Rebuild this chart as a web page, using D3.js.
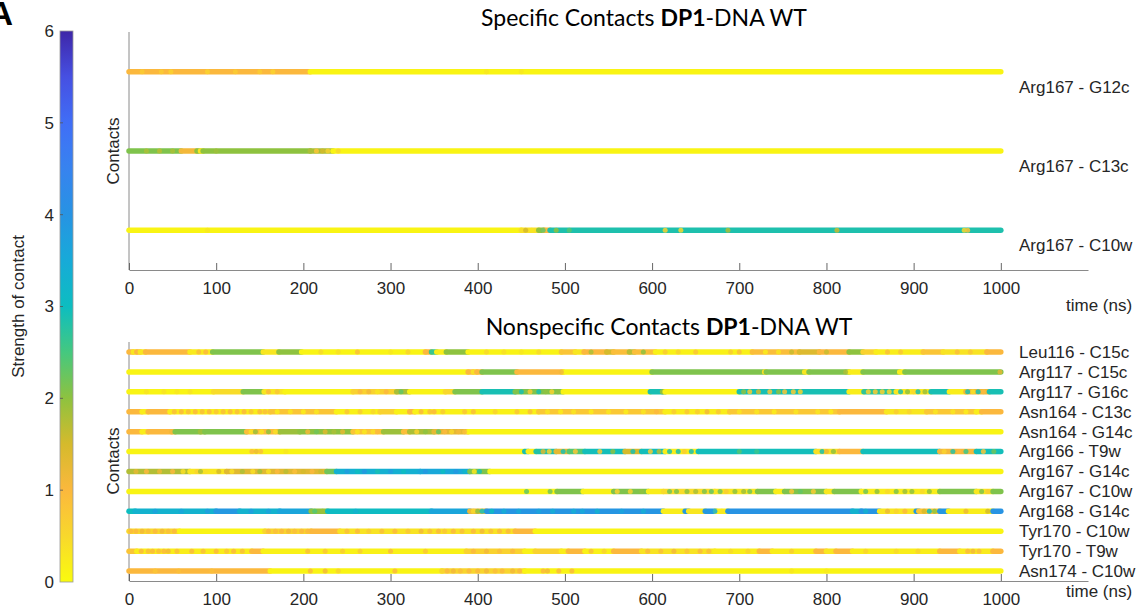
<!DOCTYPE html>
<html><head><meta charset="utf-8">
<script src="https://cdn.jsdelivr.net/npm/d3@7"></script>
<style>
body{margin:0;background:#fff;}
svg{display:block;font-family:"Liberation Sans",Arial,sans-serif;}
</style></head><body>
<svg id="chart" width="1142" height="613"></svg>
<script>
// ---- tick labels ----
const timeTicks = [0, 100, 200, 300, 400, 500, 600, 700, 800, 900, 1000];
const strengthTicks = [0, 1, 2, 3, 4, 5, 6];

// ---- colormap (strength of contact, 0..6) ----
const strengthStops = [0, 0.5, 1, 1.5, 2, 2.5, 3, 3.5, 4, 4.5, 5, 5.5, 6];
const strengthColors = ['#f9fb0e', '#f8d82c', '#fbb83d', '#d5ba2c', '#8ec23f', '#45c87f', '#0dbdc0',
                        '#17aad8', '#2793e3', '#3783ef', '#406ef6', '#4650e2', '#3e26a8'];

// ---- specific contacts: runs are [start ns, end ns, strength] ----
const specificLabels = ['Arg167 - G12c', 'Arg167 - C13c', 'Arg167 - C10w'];
const specificRuns = [
  [[0,208,1.0],[208,1000,0.1]],
  [[0,60,2.1],[60,78,1.1],[78,82,2.0],[82,85,0.3],[85,208,2.0],[208,234,1.8],[234,1000,0.1]],
  [[0,450,0.1],[450,470,0.4],[470,476,2.0],[476,483,1.0],[483,1000,2.85]]
];
// isolated samples [time ns, strength]
const specificSpots = [
  [[15,0.7],[37,0.7],[48,0.6],[90,0.6],[122,0.7],[150,0.7],[165,0.6],[410,0.3],[450,0.3]],
  [[20,1.8],[35,1.7],[50,1.8],[100,1.9],[215,0.8],[222,1.5],[228,0.6],[240,0.5]],
  [[90,0.3],[455,1.5],[462,0.3],[475,2.3],[490,2.0],[505,2.4],[615,0.6],[633,0.5],[687,1.8],[812,1.6],[958,0.5],[962,0.8]]
];

// ---- nonspecific contacts ----
const nonspecificLabels = ['Leu116 - C15c', 'Arg117 - C15c', 'Arg117 - G16c', 'Asn164 - C13c',
  'Asn164 - G14c', 'Arg166 - T9w', 'Arg167 - G14c', 'Arg167 - C10w', 'Arg168 - G14c',
  'Tyr170 - C10w', 'Tyr170 - T9w', 'Asn174 - C10w'];
const nonspecificRuns = [
  [[0,5,1.0],[5,9,0.3],[9,13,1.0],[13,19,0.3],[19,70,1.0],[70,96,0.25],[96,154,2.1],[154,172,0.3],[172,198,2.0],[198,340,0.1],[340,347,1.0],[347,353,2.6],[353,364,0.2],[364,389,2.0],[389,496,0.12],[496,512,0.8],[512,522,0.3],[522,548,1.0],[548,556,1.5],[556,574,0.9],[574,580,1.7],[580,604,0.9],[604,715,0.15],[715,769,0.9],[769,792,1.4],[792,826,1.0],[826,842,2.0],[842,857,0.6],[857,911,0.2],[911,934,0.8],[934,984,0.35],[984,1000,1.0]],
  [[0,389,0.1],[389,395,1.0],[395,399,0.4],[399,405,1.0],[405,445,2.1],[445,498,1.0],[498,600,0.1],[600,729,2.1],[729,731,0.4],[731,775,2.1],[775,780,0.3],[780,826,2.1],[826,842,0.2],[842,884,2.1],[884,890,0.2],[890,1000,2.1]],
  [[0,97,0.1],[97,131,0.45],[131,155,2.1],[155,179,0.3],[179,257,0.1],[257,307,0.6],[307,322,1.8],[322,363,0.12],[363,374,0.5],[374,405,2.1],[405,443,2.9],[443,498,2.1],[498,598,0.12],[598,612,2.9],[612,615,2.0],[615,700,0.12],[700,826,2.9],[826,843,0.2],[843,880,2.7],[880,920,0.3],[920,941,2.9],[941,960,0.2],[960,987,1.2],[987,1000,2.9]],
  [[0,15,1.0],[15,22,0.2],[22,47,1.0],[47,162,0.2],[162,238,0.8],[238,288,0.15],[288,307,0.6],[307,322,0.15],[322,328,1.0],[328,470,0.15],[470,615,0.75],[615,689,0.2],[689,815,0.75],[815,869,1.0],[869,915,0.3],[915,972,0.75],[972,978,0.2],[978,1000,1.0]],
  [[0,15,1.0],[15,22,0.2],[22,49,1.0],[49,53,1.1],[53,82,2.1],[82,87,1.9],[87,135,2.1],[135,173,0.9],[173,196,1.9],[196,257,2.0],[257,292,0.8],[292,315,1.9],[315,322,0.9],[322,350,1.8],[350,389,1.3],[389,1000,0.1]],
  [[0,454,0.1],[454,458,2.9],[458,467,0.2],[467,490,2.8],[490,505,1.3],[505,523,2.4],[523,569,2.95],[569,588,1.5],[588,615,2.95],[615,653,0.2],[653,788,2.95],[788,815,0.4],[815,842,1.0],[842,930,2.95],[930,972,1.1],[972,1000,2.95]],
  [[0,70,1.75],[70,112,0.3],[112,227,1.35],[227,238,2.2],[238,334,3.35],[334,391,3.55],[391,414,2.1],[414,1000,0.1]],
  [[0,491,0.1],[491,521,2.1],[521,556,0.15],[556,596,2.1],[596,613,0.2],[613,672,0.45],[672,721,0.3],[721,742,2.1],[742,752,0.2],[752,800,2.1],[800,809,0.3],[809,840,2.1],[840,930,0.2],[930,972,2.1],[972,991,0.3],[991,1000,2.1]],
  [[0,7,3.0],[7,100,3.3],[100,127,3.9],[127,173,3.3],[173,209,3.6],[209,228,2.0],[228,347,3.05],[347,391,3.6],[391,410,1.2],[410,613,3.95],[613,638,0.2],[638,642,3.9],[642,661,0.3],[661,673,3.9],[673,687,0.2],[687,830,4.0],[830,840,3.3],[840,861,3.95],[861,903,0.3],[903,906,3.9],[906,930,0.8],[930,940,3.9],[940,991,0.2],[991,1000,4.0]],
  [[0,58,0.5],[58,156,0.1],[156,209,0.55],[209,242,1.0],[242,443,0.35],[443,466,1.0],[466,1000,0.1]],
  [[0,9,0.8],[9,141,0.2],[141,154,1.0],[154,387,0.15],[387,454,0.6],[454,466,0.15],[466,496,0.6],[496,504,0.2],[504,523,1.0],[523,556,0.15],[556,588,1.0],[588,672,0.35],[672,723,0.2],[723,738,1.0],[738,788,0.2],[788,800,1.0],[800,811,0.3],[811,830,1.0],[830,930,0.2],[930,953,1.0],[953,991,0.25],[991,1000,1.0]],
  [[0,162,1.0],[162,359,0.1],[359,454,0.55],[454,1000,0.1]]
];
const nonspecificSpots = [
  [[80,0.9],[88,1.0],[220,0.5],[240,0.4],[262,0.9],[300,0.3],[320,0.6],[410,0.5],[430,0.4],[450,0.3],[470,0.5],[530,1.8],[590,2.0],[615,0.7],[630,0.6],[650,0.8],[690,0.7],[700,0.9],[730,0.2],[745,0.3],[760,1.6],[800,1.6],[870,0.9],[885,0.8],[950,0.9],[965,0.8]],
  [[496,1.1],[822,1.8],[999,1.3]],
  [[20,0.35],[40,0.35],[55,0.3],[70,0.35],[160,1.0],[170,0.8],[265,1.0],[275,1.1],[285,0.3],[295,1.0],[312,2.3],[450,2.9],[460,0.7],[470,2.9],[478,2.0],[485,0.6],[492,2.0],[705,2.0],[712,0.7],[722,1.5],[735,0.8],[745,2.0],[752,0.8],[762,0.7],[770,0.6],[848,0.6],[856,0.7],[864,0.6],[872,0.5],[885,2.9],[893,2.0],[900,0.5],[905,2.9],[913,1.9],[962,2.9],[968,0.4],[974,2.9],[980,1.0]],
  [[52,0.9],[60,1.0],[68,0.9],[76,1.0],[84,0.9],[92,1.0],[100,0.8],[108,0.9],[116,1.0],[124,0.9],[132,1.0],[140,0.8],[150,1.0],[156,0.9],[170,0.2],[185,0.3],[200,0.2],[215,0.3],[250,0.8],[265,0.7],[280,0.5],[335,1.0],[345,0.9],[350,1.0],[360,0.7],[385,0.8],[395,0.9],[420,0.6],[445,0.8],[460,0.9],[480,0.3],[495,0.2],[510,0.3],[530,0.2],[550,0.3],[570,0.2],[590,0.3],[605,1.0],[625,0.7],[640,0.8],[652,0.7],[663,1.1],[676,0.8],[700,0.3],[720,0.3],[740,0.2],[765,0.3],[790,0.3],[805,0.2],[880,0.7],[895,0.6],[925,0.3],[945,0.3],[960,0.2]],
  [[140,0.3],[145,1.9],[152,0.3],[160,2.0],[168,0.4],[205,1.1],[215,2.2],[225,1.4],[235,1.8],[245,1.3],[262,0.3],[270,0.3],[280,0.4],[285,1.0],[330,0.6],[340,2.0],[355,2.3],[362,1.0],[370,0.5],[378,1.1],[385,0.9]],
  [[141,1.0],[146,1.2],[151,0.9],[180,0.3],[475,1.4],[482,0.6],[498,2.9],[512,0.8],[540,0.8],[555,2.0],[578,2.9],[598,0.7],[608,1.7],[620,2.9],[630,2.9],[637,0.7],[645,2.9],[700,2.4],[720,2.6],[795,2.9],[800,1.2],[808,2.0],[935,0.6],[945,2.8],[952,1.0],[960,2.6],[980,0.8],[992,2.2]],
  [[8,1.3],[20,1.0],[35,1.2],[50,1.0],[62,0.4],[78,0.6],[82,1.8],[88,0.4],[95,0.3],[103,1.5],[118,0.4],[130,1.8],[142,0.4],[150,1.9],[160,0.4],[170,1.0],[180,1.7],[190,0.9],[200,1.5],[210,1.0],[220,1.6],[250,3.8],[262,3.0],[270,3.9],[285,2.9],[300,3.8],[315,3.0],[340,3.9],[360,3.0],[375,3.9],[385,3.2],[396,0.3],[402,2.9],[408,2.1]],
  [[456,2.3],[483,2.2],[560,0.6],[575,0.6],[588,2.0],[620,2.2],[628,2.1],[640,2.0],[650,1.8],[660,2.1],[668,2.3],[678,2.2],[685,0.7],[695,2.0],[705,1.9],[712,2.2],[760,0.8],[770,2.3],[785,0.7],[845,2.2],[858,2.0],[870,0.5],[880,2.1],[890,1.9],[898,2.0],[910,0.5],[918,2.0],[978,2.1],[985,0.7]],
  [[30,3.7],[60,3.6],[90,3.8],[140,3.8],[160,3.7],[213,2.4],[222,1.9],[260,3.3],[395,0.5],[400,2.0],[405,2.9],[416,3.0],[430,3.4],[447,3.5],[470,3.6],[486,3.4],[510,3.4],[520,3.5],[537,3.3],[565,3.6],[590,3.4],[672,3.4],[680,0.3],[845,3.3],[870,1.2],[880,0.6],[890,1.0],[912,1.5],[918,3.0],[924,2.0],[960,1.2],[985,1.5]],
  [[2,1.0],[8,1.0],[15,1.1],[22,0.9],[30,1.0],[38,1.1],[45,0.9],[52,1.0],[160,1.0],[168,0.9],[175,1.0],[183,1.1],[190,0.9],[198,1.0],[205,1.0],[250,0.9],[262,1.0],[275,0.7],[290,0.9],[305,1.0],[320,0.8],[335,1.1],[345,0.9],[355,1.0],[362,0.8],[372,1.0],[382,0.9],[395,1.0],[405,1.1],[415,0.9],[425,1.0],[435,1.0]],
  [[14,1.0],[22,0.9],[27,1.0],[34,0.9],[40,1.0],[45,1.1],[55,0.9],[72,1.0],[85,0.9],[100,1.0],[112,0.8],[120,1.0],[130,0.9],[205,0.9],[225,0.8],[245,0.7],[265,0.7],[300,1.0],[340,0.8],[395,1.0],[410,1.1],[425,0.9],[440,1.0],[530,0.9],[545,0.6],[595,1.0],[610,0.9],[625,1.1],[640,0.8],[655,1.0],[665,0.9],[690,0.5],[710,0.6],[760,0.7],[845,0.6],[880,0.5],[905,0.6],[962,1.0],[968,1.1],[975,0.9]],
  [[30,0.8],[57,0.9],[95,0.9],[208,1.0],[225,1.1],[240,0.6],[305,1.0],[365,1.0],[372,1.1],[380,0.9],[390,1.0],[400,1.0],[410,1.1],[420,0.9],[428,1.0],[440,1.1],[448,1.0],[475,1.0],[480,1.1],[493,1.0],[508,1.0],[760,0.3],[800,0.25]]
];

// ---- drawing ----
const svg = d3.select('#chart');
const textColor = '#262626';
const axisColor = '#8a8a8a';
const sansFont = '"Liberation Sans", Arial, sans-serif';
const fontSize = 17;

const color = d3.scaleLinear().domain(strengthStops).range(strengthColors).clamp(true);
const x = d3.scaleLinear().domain([0, 1100]).range([129, 1088]);
const intFormat = d3.format('d');

// panel label
svg.append('text').attr('x', 13).attr('y', 25).attr('text-anchor', 'end')
  .attr('font-family', sansFont).attr('font-size', 34).attr('font-weight', 'bold')
  .attr('fill', '#000').text('A');

// colorbar
const yc = d3.scaleLinear().domain([0, 6]).range([582, 31]);
const grad = svg.append('defs').append('linearGradient').attr('id', 'strengthGrad')
  .attr('x1', 0).attr('y1', 1).attr('x2', 0).attr('y2', 0);
grad.selectAll('stop').data(d3.range(0, 6.01, 0.25)).join('stop')
  .attr('offset', d => d / 6).attr('stop-color', d => color(d));
svg.append('rect').attr('x', 60).attr('y', yc(6)).attr('width', 13).attr('height', yc(0) - yc(6))
  .attr('fill', 'url(#strengthGrad)').attr('stroke', '#9a9a9a').attr('stroke-width', 0.8);
svg.append('g').selectAll('line').data(strengthTicks.slice(1, -1)).join('line')
  .attr('x1', 60).attr('x2', 63).attr('y1', d => yc(d)).attr('y2', d => yc(d))
  .attr('stroke', '#555').attr('stroke-width', 0.8);
const cbAxis = svg.append('g').attr('transform', 'translate(60,0)')
  .call(d3.axisLeft(yc).tickValues(strengthTicks).tickFormat(intFormat).tickSize(0).tickPadding(6));
cbAxis.attr('font-family', sansFont);
cbAxis.select('.domain').remove();
cbAxis.selectAll('text').attr('font-size', fontSize).attr('fill', textColor);
svg.append('text').attr('transform', `translate(24,${yc(3)}) rotate(-90)`)
  .attr('text-anchor', 'middle').attr('font-family', sansFont)
  .attr('font-size', fontSize).attr('fill', textColor)
  .text('Strength of contact');

function drawPanel(cfg) {
  const { labels, runs, spots, top, bottom, labelDy, title, titleX, titleY, ylabelY, timeY } = cfg;
  const n = labels.length;
  const y = d3.scaleLinear().domain([0.5, n + 0.5]).range([top, bottom]);
  const g = svg.append('g').attr('font-family', sansFont);

  // axes
  g.append('line').attr('x1', x(0)).attr('x2', x(0)).attr('y1', top).attr('y2', bottom)
    .attr('stroke', axisColor).attr('stroke-width', 1);
  const ax = g.append('g').attr('transform', `translate(0,${bottom})`)
    .call(d3.axisBottom(x).tickValues(timeTicks).tickFormat(intFormat)
      .tickSizeInner(-7).tickSizeOuter(0).tickPadding(12));
  ax.attr('font-family', sansFont);
  ax.select('.domain').attr('stroke', axisColor);
  ax.selectAll('.tick line').attr('stroke', '#666');
  ax.selectAll('text').attr('font-size', fontSize).attr('fill', textColor);

  // contact rows
  labels.forEach((lab, i) => {
    const yy = y(i + 1);
    const row = g.append('g');
    row.selectAll('line').data(runs[i]).join('line')
      .attr('x1', d => x(d[0])).attr('x2', d => x(d[1]))
      .attr('y1', yy).attr('y2', yy)
      .attr('stroke', d => color(d[2])).attr('stroke-width', 5.5)
      .attr('stroke-linecap', 'round');
    row.selectAll('circle').data(spots[i]).join('circle')
      .attr('cx', d => x(d[0])).attr('cy', yy).attr('r', 2.5)
      .attr('fill', d => color(d[1])).attr('fill-opacity', 0.85);
    g.append('text').attr('x', 1019).attr('y', yy + labelDy).attr('dy', '0.35em')
      .attr('font-size', fontSize).attr('fill', textColor).text(lab);
  });

  // axis labels
  g.append('text').attr('transform', `translate(119,${ylabelY}) rotate(-90)`)
    .attr('text-anchor', 'middle').attr('font-size', fontSize).attr('fill', textColor).text('Contacts');
  g.append('text').attr('x', 1066).attr('y', timeY).attr('dy', '0.35em')
    .attr('font-size', fontSize).attr('fill', textColor).text('time (ns)');

  // title
  const t = g.append('text').attr('x', titleX).attr('y', titleY)
    .attr('text-anchor', 'middle').attr('font-family', 'Lato, "Open Sans", sans-serif')
    .attr('font-size', 23).attr('fill', '#000');
  t.append('tspan').text(title[0]);
  t.append('tspan').attr('font-weight', 'bold').text(title[1]);
  t.append('tspan').text(title[2]);
}

drawPanel({
  labels: specificLabels, runs: specificRuns, spots: specificSpots,
  top: 32, bottom: 270, labelDy: 15,
  title: ['Specific Contacts ', 'DP1', '-DNA WT'], titleX: 644, titleY: 26,
  ylabelY: 151, timeY: 305
});
drawPanel({
  labels: nonspecificLabels, runs: nonspecificRuns, spots: nonspecificSpots,
  top: 342, bottom: 581, labelDy: 0,
  title: ['Nonspecific Contacts ', 'DP1', '-DNA WT'], titleX: 669, titleY: 335,
  ylabelY: 461, timeY: 591
});
</script>
</body></html>
